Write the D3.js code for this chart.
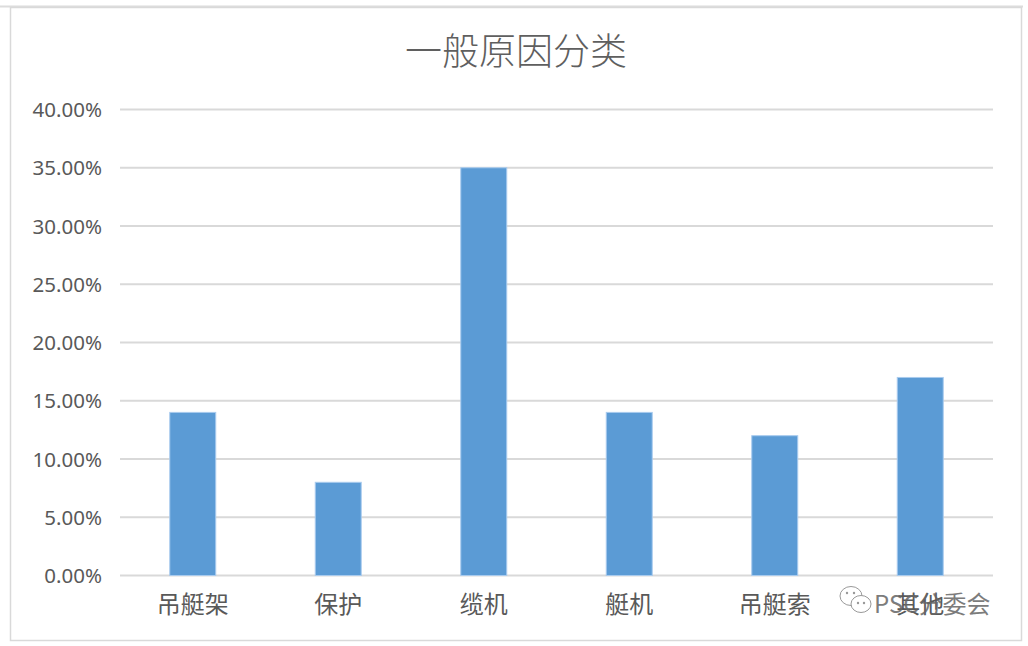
<!DOCTYPE html>
<html>
<head>
<meta charset="utf-8">
<script src="https://cdn.jsdelivr.net/npm/d3@7"></script>
<style>
  html, body { margin: 0; padding: 0; background: #fff; }
  svg { display: block; }
</style>
</head>
<body>
<svg id="chart" width="1028" height="646"></svg>
<script>
const title = "一般原因分类";
const categories = ["吊艇架", "保护", "缆机", "艇机", "吊艇索", "其他"];
const values = [0.14, 0.08, 0.35, 0.14, 0.12, 0.17];
const yTicks = [0, 0.05, 0.10, 0.15, 0.20, 0.25, 0.30, 0.35, 0.40];
const watermark = "PSC分委会";

const svg = d3.select("#chart");
const W = 1028, H = 646;
const margin = { left: 120, right: 35, top: 109.5, bottom: 70.5 };
const fontCJK = "'Noto Sans CJK SC', 'Noto Sans', sans-serif";
const fontNum = "'Noto Sans', 'Open Sans', sans-serif";

// frame
svg.append("line").attr("x1", 0).attr("x2", 1023).attr("y1", 6.5).attr("y2", 6.5)
  .attr("stroke", "#dcdcdc").attr("stroke-width", 2);
svg.append("rect").attr("x", 10.5).attr("y", 7.5).attr("width", 1011).attr("height", 633)
  .attr("fill", "none").attr("stroke", "#d9d9d9").attr("stroke-width", 1.5);

const x = d3.scaleBand().domain(categories).range([margin.left, W - margin.right]).paddingInner(0.684).paddingOuter(0.342);
const y = d3.scaleLinear().domain([0, 0.40]).range([H - margin.bottom, margin.top]);

// gridlines
svg.append("g").selectAll("line").data(yTicks).join("line")
  .attr("x1", margin.left).attr("x2", W - margin.right)
  .attr("y1", d => y(d)).attr("y2", d => y(d))
  .attr("stroke", "#d9d9d9").attr("stroke-width", 2);

// y axis labels
const yAxis = d3.axisLeft(y).tickValues(yTicks).tickSize(0).tickPadding(0)
  .tickFormat(d => (d * 100).toFixed(2) + "%");
const gy = svg.append("g").attr("transform", `translate(102,0)`).call(yAxis);
gy.select(".domain").remove();
gy.selectAll("text").attr("font-family", fontNum).attr("font-size", 20.5).attr("fill", "#595959").attr("dy", "0.35em");

// bars
svg.append("g").selectAll("rect").data(values).join("rect")
  .attr("x", (d, i) => x(categories[i]))
  .attr("width", x.bandwidth())
  .attr("y", d => y(d))
  .attr("height", d => y(0) - y(d))
  .attr("fill", "#5b9bd5")
  .attr("stroke", "#a9cbee").attr("stroke-width", 1);

// x axis labels
const xAxis = d3.axisBottom(x).tickSize(0).tickPadding(0);
const gx = svg.append("g").attr("transform", `translate(0,${y(0)})`).call(xAxis);
gx.select(".domain").remove();
gx.selectAll("text").attr("font-family", fontCJK).attr("font-size", 24).attr("fill", "#595959")
  .attr("dy", "1.55em");

// title
svg.append("text").attr("x", 516).attr("y", 49).attr("text-anchor", "middle")
  .attr("dominant-baseline", "central")
  .attr("font-family", fontCJK).attr("font-size", 37).attr("font-weight", 300).attr("fill", "#5f5f5f").text(title);

// watermark
const wm = svg.append("g").attr("opacity", 0.85);
wm.append("ellipse").attr("cx", 851).attr("cy", 596).attr("rx", 11).attr("ry", 9.5)
  .attr("fill", "#fff").attr("stroke", "#888").attr("stroke-width", 1);
wm.append("ellipse").attr("cx", 861).attr("cy", 604).attr("rx", 10).attr("ry", 8.5)
  .attr("fill", "#fff").attr("stroke", "#888").attr("stroke-width", 1);
[[847, 593], [854, 593], [858, 603], [864, 603]].forEach(p =>
  wm.append("circle").attr("cx", p[0]).attr("cy", p[1]).attr("r", 1.2).attr("fill", "#888"));
wm.append("text").attr("x", 874).attr("y", 602).attr("dominant-baseline", "central")
  .attr("font-family", fontCJK).attr("font-size", 24).attr("fill", "#666").text(watermark);
</script>
</body>
</html>
